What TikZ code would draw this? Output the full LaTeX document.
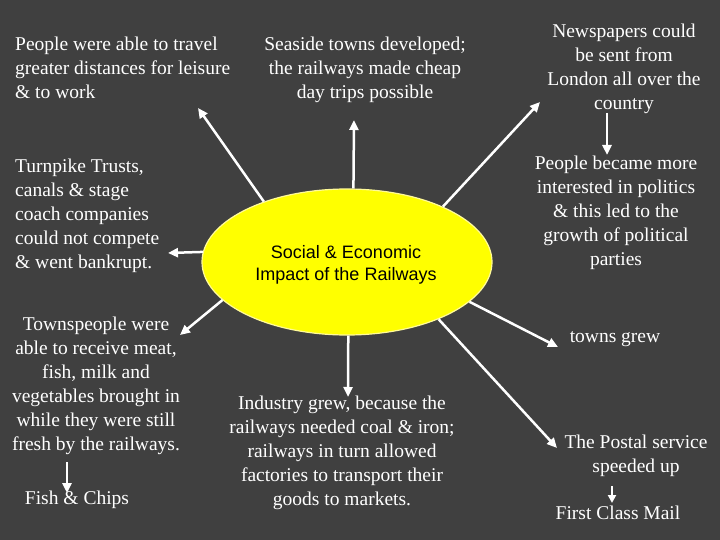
\documentclass[tikz,border=0pt]{standalone}
\usepackage{fontspec}
\setmainfont{Liberation Serif}
\newfontfamily\arialf{Liberation Sans}
\usetikzlibrary{arrows.meta,shapes.geometric}
\definecolor{bg}{HTML}{404040}
\definecolor{ellfill}{HTML}{FFFF00}
\begin{document}
\begin{tikzpicture}[x=1pt,y=-1pt,
  txt/.style={text=white, font=\fontsize{19.5}{24}\selectfont, inner sep=0pt},
  arr/.style={draw=white, line width=2.5pt, -{Triangle[length=10pt,width=9pt]}},
  smallarr/.style={draw=white, line width=2.5pt, -{Triangle[length=8pt,width=8pt]}}]
\fill[bg] (0,0) rectangle (720,540);
\useasboundingbox (0,0) rectangle (720,540);

\node[ellipse, fill=ellfill, draw=yellow!40!white, line width=1.2pt,
      minimum width=290pt, minimum height=146pt, inner sep=0pt] (ell) at (347,262) {};
\node[align=center, inner sep=0pt, font=\arialf\fontsize{18}{22}\selectfont] (F) at (346,265)
      {Social \& Economic\\Impact of the Railways};

\node[txt, align=left, anchor=west] (A) at (15,68)
  {People were able to travel\\greater distances for leisure\\\& to work};
\node[txt, align=center] (B) at (365,70)
  {Seaside towns developed;\\the railways made cheap\\day trips possible};
\node[txt, align=center] (C) at (624,69)
  {Newspapers could\\be sent from\\London all over the\\country};
\node[txt, align=left, anchor=west] (D) at (15,216)
  {Turnpike Trusts,\\canals \& stage\\coach companies\\could not compete\\\& went bankrupt.};
\node[txt, align=center] (E) at (616,213)
  {People became more\\interested in politics\\\& this led to the\\growth of political\\parties};
\node[txt] (G) at (615,339) {towns grew};
\node[txt, align=center] (H) at (96,386)
  {Townspeople were\\able to receive meat,\\fish, milk and\\vegetables brought in\\while they were still\\fresh by the railways.};
\node[txt] (I) at (77,500) {Fish \& Chips};
\node[txt, align=center] (J) at (342,453)
  {Industry grew, because the\\railways needed coal \& iron;\\railways in turn allowed\\factories to transport their\\goods to markets.};
\node[txt, align=center] (K) at (636,456)
  {The Postal service\\speeded up};
\node[txt] (L) at (618,513) {First Class Mail};

\coordinate (t1) at (198,108);
\coordinate (t2) at (354,120);
\coordinate (t3) at (540,102);
\coordinate (t4) at (168,253);
\coordinate (s5) at (607,113);
\coordinate (t5) at (607,155);
\coordinate (t6) at (558,347);
\coordinate (t7) at (180,335);
\coordinate (t8) at (348,397);
\coordinate (t9) at (557,448);
\coordinate (s10) at (67,462);
\coordinate (t10) at (67,493);
\coordinate (s11) at (612,486);
\coordinate (t11) at (612,503);

\draw[arr] (ell.144.5) -- (t1);
\draw[arr] (ell.85) -- (t2);
\draw[arr] (ell.30) -- (t3);
\draw[arr] (ell.176.4) -- (t4);
\draw[arr] (s5) -- (t5);
\draw[arr] (ell.-18) -- (t6);
\draw[arr] (ell.-163) -- (t7);
\draw[arr] (ell.-89.2) -- (t8);
\draw[arr] (ell.-32) -- (t9);
\draw[arr] (s10) -- (t10);
\draw[smallarr] (s11) -- (t11);
\end{tikzpicture}
\end{document}
